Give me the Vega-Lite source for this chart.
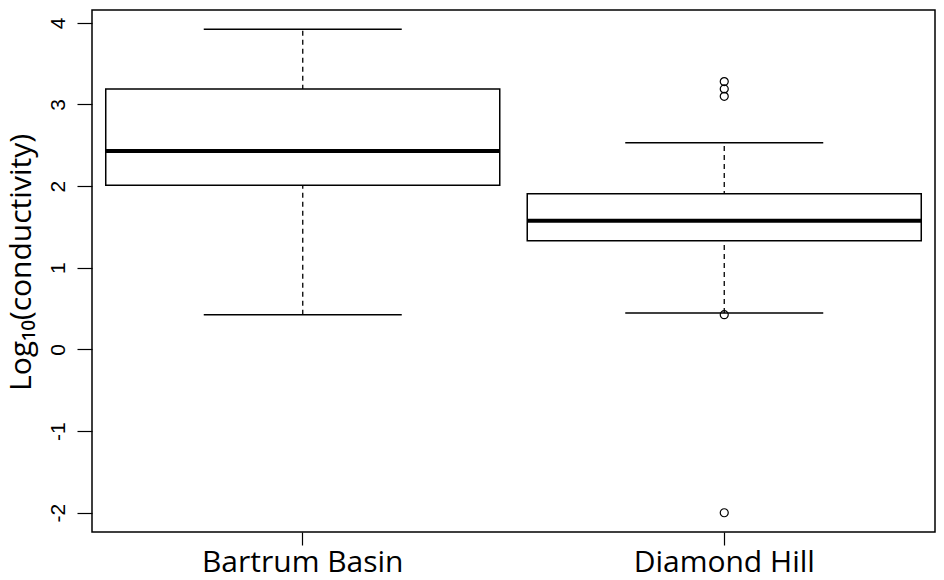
{
  "$schema": "https://vega.github.io/schema/vega-lite/v6.json",
  "autosize": {"type": "none"},
  "padding": {"left": 92, "top": 10, "right": 9, "bottom": 48},
  "width": 843,
  "height": 522,
  "background": "white",
  "config": {
    "view": {"stroke": "black", "strokeWidth": 1.5},
    "axis": {"grid": false, "domain": false, "tickColor": "black", "labelColor": "black", "titleColor": "black"}
  },
  "datasets": {
    "boxes": [
      {"site": "Bartrum Basin", "lower": 0.425, "q1": 2.01, "median": 2.43, "q3": 3.19, "upper": 3.92},
      {"site": "Diamond Hill", "lower": 0.445, "q1": 1.33, "median": 1.575, "q3": 1.906, "upper": 2.53}
    ],
    "outliers": [
      {"site": "Diamond Hill", "value": 3.28},
      {"site": "Diamond Hill", "value": 3.19},
      {"site": "Diamond Hill", "value": 3.10},
      {"site": "Diamond Hill", "value": 0.425},
      {"site": "Diamond Hill", "value": -2.0}
    ]
  },
  "encoding": {
    "x": {
      "field": "site", "type": "nominal",
      "scale": {"domain": ["Bartrum Basin", "Diamond Hill"], "paddingInner": 0.0652, "paddingOuter": 0.0326},
      "axis": {"title": null, "labelAngle": 0, "labelLimit": 0, "labelFont": "Open Sans", "labelFontSize": 30, "labelPadding": 2, "tickSize": 13, "tickWidth": 1.2}
    }
  },
  "layer": [
    {
      "data": {"name": "boxes"},
      "mark": {"type": "rule", "strokeDash": [5, 4], "strokeWidth": 1.3, "color": "black", "opacity": 1},
      "encoding": {
        "y": {
          "field": "lower", "type": "quantitative",
          "scale": {"domain": [-2.236, 4.157], "nice": false, "zero": false},
          "axis": {
            "title": "Log₁₀(conductivity)", "titleFont": "Open Sans", "titleFontSize": 30, "titleFontWeight": "normal",
            "titleX": -62, "titleY": 252, "titleAngle": 270, "titleAlign": "center", "titleBaseline": "alphabetic",
            "values": [-2, -1, 0, 1, 2, 3, 4], "labelExpr": "toString(datum.value)", "labelAngle": 270, "labelFont": "Liberation Sans", "labelFontSize": 21, "labelPadding": 9, "tickSize": 15, "tickWidth": 1.2
          }
        },
        "y2": {"field": "upper"}
      }
    },
    {
      "data": {"name": "boxes"},
      "mark": {"type": "bar", "fill": "white", "stroke": "black", "strokeWidth": 1.5, "opacity": 1},
      "encoding": {
        "y": {"field": "q1", "type": "quantitative"},
        "y2": {"field": "q3"}
      }
    },
    {
      "data": {"name": "boxes"},
      "mark": {"type": "tick", "color": "black", "size": 394, "thickness": 4, "opacity": 1},
      "encoding": {"y": {"field": "median", "type": "quantitative"}}
    },
    {
      "data": {"name": "boxes"},
      "mark": {"type": "tick", "color": "black", "size": 198, "thickness": 1.5, "opacity": 1},
      "encoding": {"y": {"field": "lower", "type": "quantitative"}}
    },
    {
      "data": {"name": "boxes"},
      "mark": {"type": "tick", "color": "black", "size": 198, "thickness": 1.5, "opacity": 1},
      "encoding": {"y": {"field": "upper", "type": "quantitative"}}
    },
    {
      "data": {"name": "outliers"},
      "mark": {"type": "point", "shape": "circle", "filled": false, "color": "black", "size": 64, "strokeWidth": 1.2, "opacity": 1},
      "encoding": {"y": {"field": "value", "type": "quantitative"}}
    }
  ]
}
